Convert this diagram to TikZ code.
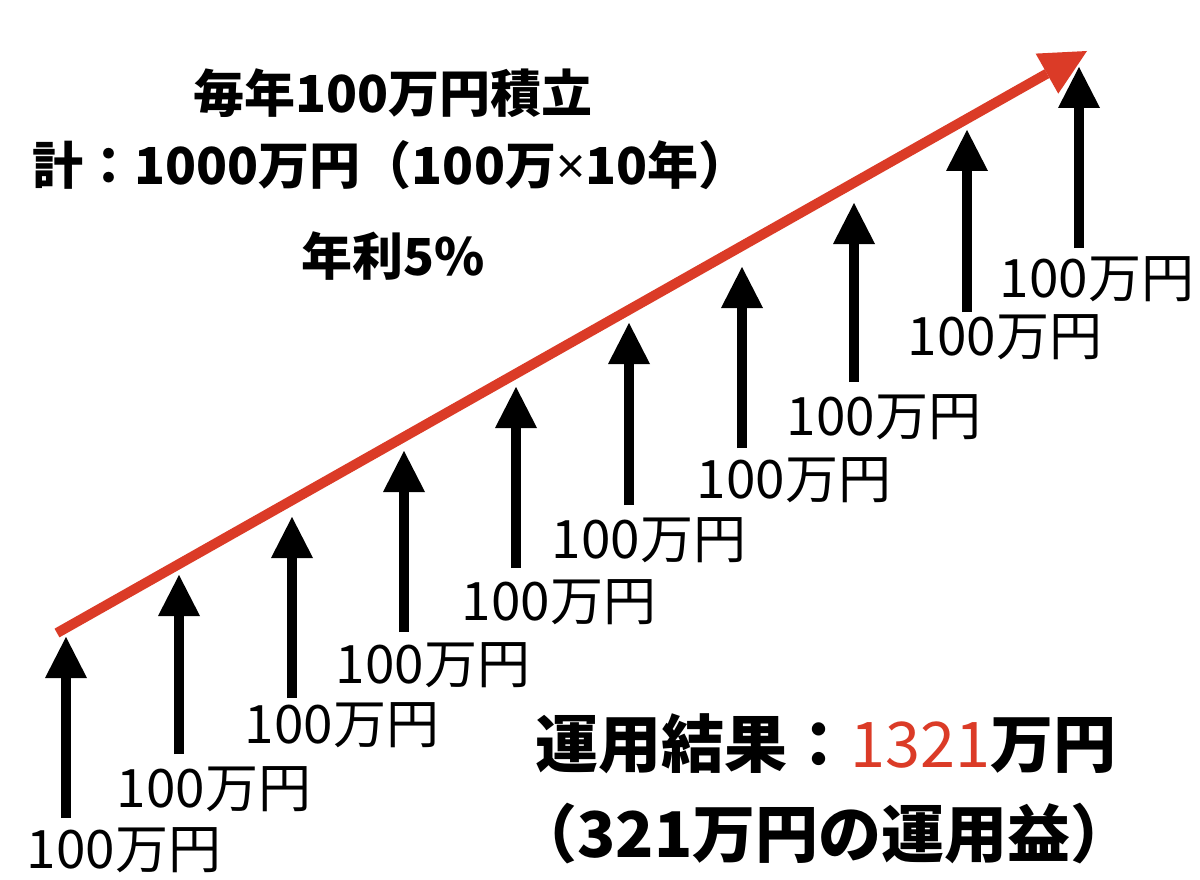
\documentclass[tikz,border=0pt]{standalone}
\usepackage{fontspec}
\setmainfont{Noto Sans CJK JP}
\newfontfamily\latinsym{Noto Sans}
\usetikzlibrary{arrows.meta}
\definecolor{redline}{RGB}{219,59,39}
\begin{document}
\begin{tikzpicture}[x=1pt,y=-1pt,
  up/.style={line width=10pt,-{Triangle[length=41pt,width=42pt,line width=0pt]}},
  growth/.style={line width=10pt,redline,-{Triangle[length=46pt,width=46pt,line width=0pt]}},
  lbl/.style={anchor=base,inner sep=0pt,font=\fontsize{53}{53}\selectfont},
  ttl/.style={anchor=base,inner sep=0pt,font=\fontsize{51}{51}\selectfont\bfseries},
  res/.style={anchor=base,inner sep=0pt,font=\fontsize{63}{63}\selectfont\bfseries}]
\fill[white] (0,0) rectangle (1200,880);
\useasboundingbox (0,0) rectangle (1200,880);

% growth line
\coordinate (gs) at (57,633);
\coordinate (ge) at (1087,51);
\draw[growth] (gs) -- (ge);

% yearly contributions
\foreach \i/\x/\t/\b/\lx/\ly in {
  1/66/637/818/124/868,
  2/179/575/754/214/807,
  3/292/517/698/342/743,
  4/404/451/632/433/683,
  5/516/387/568/559/620,
  6/629/323/505/649/558,
  7/742/267/448/794/498,
  8/854/203/382/884/435,
  9/967/130/312/1005/355,
  10/1079/67/248/1097/297}{
  \coordinate (bot\i) at (\x,\b);
  \coordinate (tip\i) at (\x,\t);
  \draw[up] (bot\i) -- (tip\i);
  \node[lbl] (lab\i) at (\lx,\ly) {100万円};
}

% titles
\node[ttl] (ttl1) at (393,113) {毎年100万円積立};
\node[ttl] (ttl2) at (391,185) {計：1000万円（100万{\latinsym ×}10年）};
\node[ttl] (ttl3) at (393,275) {年利5\%};

% result
\node[res] (res1) at (826,767) {運用結果：{\mdseries\color{redline}1321}万円};
\node[res] (res2) at (824,857) {（321万円の運用益）};
\end{tikzpicture}
\end{document}
